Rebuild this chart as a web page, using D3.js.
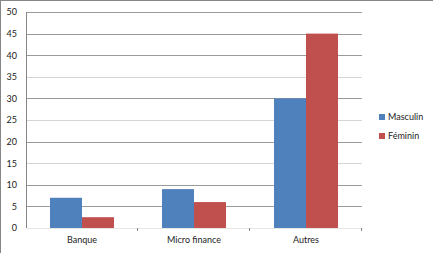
<!DOCTYPE html>
<html>
<head>
<meta charset="utf-8">
<script src="https://cdn.jsdelivr.net/npm/d3@7"></script>
<style>
  body { margin: 0; background: #fff; }
  svg text { font-family: Lato, "Open Sans", sans-serif; fill: #222; }
</style>
</head>
<body>
<svg id="chart"></svg>
<script>
var categories = ["Banque", "Micro finance", "Autres"];
var seriesNames = ["Masculin", "Féminin"];
var masculin = [7, 9, 30];
var feminin = [2.5, 6, 45];
var yTicks = [0, 5, 10, 15, 20, 25, 30, 35, 40, 45, 50];

var viewWidth = 433, viewHeight = 253;
var margin = {top: 12, right: 71, bottom: 25, left: 26};
var width = viewWidth - margin.left - margin.right;
var height = viewHeight - margin.top - margin.bottom;
var colors = ["#4f81bd", "#c0504d"];

var svg = d3.select("#chart")
    .attr("width", viewWidth)
    .attr("height", viewHeight);

// outer chart border
svg.append("rect")
    .attr("x", 0.5).attr("y", 0.5)
    .attr("width", viewWidth + 10).attr("height", viewHeight + 10)
    .attr("fill", "none")
    .attr("stroke", "#868686");

var g = svg.append("g")
    .attr("transform", "translate(" + margin.left + "," + margin.top + ")");

var x = d3.scaleBand().domain(categories).range([0, width]);
var x1 = d3.scaleBand().domain(seriesNames).range([0, 64]);
var y = d3.scaleLinear().domain([0, 50]).range([height, 0]);

// gridlines
g.selectAll(".grid")
    .data(yTicks.filter(function(d) { return d > 0; }))
  .enter().append("line")
    .attr("x1", 0).attr("x2", width)
    .attr("y1", function(d) { return Math.round(y(d)) + 0.5; })
    .attr("y2", function(d) { return Math.round(y(d)) + 0.5; })
    .attr("stroke", function(d) { return d % 10 === 0 || d === 5 || d === 45 ? "#9a9a9a" : "#d4d4d4"; });

// y axis
var yAxis = d3.axisLeft(y).tickValues(yTicks).tickSize(0).tickPadding(9);
var yg = g.append("g").call(yAxis);
yg.select(".domain").attr("stroke", "#868686").attr("d", "M0.5," + height + "V0");
yg.selectAll("text").style("font-size", "9px");

// x axis
var xAxis = d3.axisBottom(x).tickSize(0).tickPadding(9);
var xg = g.append("g").attr("transform", "translate(0," + height + ")").call(xAxis);
xg.select(".domain").attr("stroke", "#e6e6e6");
xg.selectAll("text").style("font-size", "9px");
xg.selectAll(".sep")
    .data(categories)
  .enter().append("line")
    .attr("x1", function(d) { return Math.round(x(d) + x.bandwidth()) - 0.5; })
    .attr("x2", function(d) { return Math.round(x(d) + x.bandwidth()) - 0.5; })
    .attr("y1", 0).attr("y2", 3)
    .attr("stroke", "#868686");

// bars
var rows = categories.map(function(c, i) {
  return {cat: c, values: [
    {name: seriesNames[0], value: masculin[i]},
    {name: seriesNames[1], value: feminin[i]}
  ]};
});

var groups = g.selectAll(".cat")
    .data(rows)
  .enter().append("g")
    .attr("transform", function(d) { return "translate(" + (x(d.cat) + (x.bandwidth() - 64) / 2) + ",0)"; });

groups.selectAll("rect")
    .data(function(d) { return d.values; })
  .enter().append("rect")
    .attr("x", function(d) { return x1(d.name); })
    .attr("width", x1.bandwidth())
    .attr("y", function(d) { return y(d.value); })
    .attr("height", function(d) { return height - y(d.value); })
    .attr("fill", function(d, i) { return colors[i]; });

// legend
var legend = svg.selectAll(".legend")
    .data(seriesNames)
  .enter().append("g")
    .attr("transform", function(d, i) { return "translate(379," + (114 + i * 19) + ")"; });

legend.append("rect")
    .attr("width", 6).attr("height", 6)
    .attr("fill", function(d, i) { return colors[i]; });

legend.append("text")
    .attr("x", 9).attr("y", 3)
    .attr("dy", "0.35em")
    .style("font-size", "9px")
    .text(function(d) { return d; });
</script>
</body>
</html>
